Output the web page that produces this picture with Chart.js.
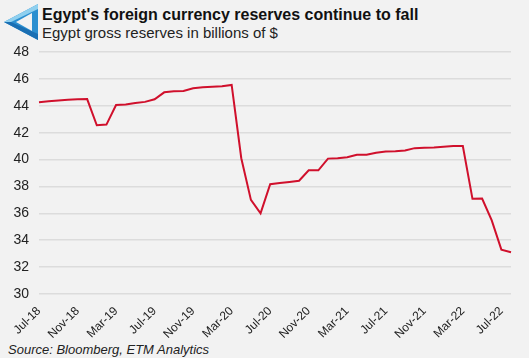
<!DOCTYPE html>
<html>
<head>
<meta charset="utf-8">
<script src="https://cdn.jsdelivr.net/npm/chart.js"></script>
<style>
  html, body { margin: 0; padding: 0; }
  body { width: 529px; height: 358px; background: #f2f2f2; position: relative; overflow: hidden; font-family: "Liberation Sans", Arial, sans-serif; }
  #chart { position: absolute; left: 0; top: 0; }
  .title { position: absolute; left: 42px; top: 6px; font-size: 16px; font-weight: bold; color: #111; white-space: nowrap; }
  .subtitle { position: absolute; left: 42px; top: 24px; font-size: 15px; color: #222; white-space: nowrap; }
  .source { position: absolute; left: 8px; top: 342px; font-size: 13px; font-style: italic; color: #222; white-space: nowrap; }
  .logo { position: absolute; left: 2px; top: 3px; }
</style>
</head>
<body>
<svg class="logo" width="38" height="38" viewBox="0 0 38 38">
  <polygon points="36,1 2,19 36,37" fill="#2b8fd0"/>
  <polygon points="36,1 2,19 9,19 36,6" fill="#8fd0ef"/>
  <polygon points="2,19 36,37 36,31 9,19" fill="#1a6fb3"/>
  <polygon points="30,10 14,19 30,28" fill="#f2f2f2"/>
</svg>
<div class="title">Egypt's foreign currency reserves continue to fall</div>
<div class="subtitle">Egypt gross reserves in billions of $</div>
<div class="source">Source: Bloomberg, ETM Analytics</div>
<canvas id="chart" width="529" height="358"></canvas>
<script>
const months = [
  "Jul-18", "Aug-18", "Sep-18", "Oct-18", "Nov-18", "Dec-18",
  "Jan-19", "Feb-19", "Mar-19", "Apr-19", "May-19", "Jun-19", "Jul-19", "Aug-19", "Sep-19", "Oct-19", "Nov-19", "Dec-19",
  "Jan-20", "Feb-20", "Mar-20", "Apr-20", "May-20", "Jun-20", "Jul-20", "Aug-20", "Sep-20", "Oct-20", "Nov-20", "Dec-20",
  "Jan-21", "Feb-21", "Mar-21", "Apr-21", "May-21", "Jun-21", "Jul-21", "Aug-21", "Sep-21", "Oct-21", "Nov-21", "Dec-21",
  "Jan-22", "Feb-22", "Mar-22", "Apr-22", "May-22", "Jun-22", "Jul-22", "Aug-22"
];

const reserves = [
  44.26, 44.33, 44.4, 44.45, 44.48, 44.5,
  42.55, 42.6, 44.06, 44.1, 44.2, 44.29, 44.48, 45.0, 45.08, 45.1, 45.3, 45.38,
  45.42, 45.45, 45.55, 40.1, 37.0, 36.0, 38.17, 38.25, 38.33, 38.42, 39.2, 39.2,
  40.07, 40.1, 40.17, 40.35, 40.35, 40.5, 40.6, 40.62, 40.67, 40.85, 40.87, 40.9,
  40.95, 41.0, 41.0, 37.08, 37.1, 35.47, 33.3, 33.1
];

const tickLabels = ["Jul-18", "Nov-18", "Mar-19", "Jul-19", "Nov-19", "Mar-20", "Jul-20",
  "Nov-20", "Mar-21", "Jul-21", "Nov-21", "Mar-22", "Jul-22"];

new Chart(document.getElementById("chart"), {
  type: "line",
  data: {
    labels: months,
    datasets: [{
      label: "Gross reserves",
      data: reserves,
      borderColor: "#d0102c",
      borderWidth: 2,
      pointRadius: 0,
      tension: 0,
      fill: false
    }]
  },
  options: {
    responsive: false,
    animation: false,
    layout: { padding: { top: 52, right: 18, bottom: 0, left: 0 } },
    plugins: {
      legend: { display: false },
      tooltip: { enabled: false }
    },
    scales: {
      x: {
        grid: { display: false },
        border: { display: false },
        afterFit: scale => { scale.height = 64; },
        ticks: {
          autoSkip: false,
          maxRotation: 45,
          minRotation: 45,
          padding: 2,
          color: "#222",
          font: { family: "Liberation Sans", size: 12 },
          callback: (val, i) => tickLabels.includes(months[i]) ? months[i] : ""
        }
      },
      y: {
        min: 30,
        max: 48,
        afterFit: scale => { scale.width = 39; },
        grid: { color: "#dcdcdc", lineWidth: 1.5, drawTicks: false },
        border: { display: false },
        ticks: {
          stepSize: 2,
          padding: 10,
          color: "#222",
          font: { family: "Liberation Sans", size: 14 }
        }
      }
    }
  }
});
</script>
</body>
</html>
